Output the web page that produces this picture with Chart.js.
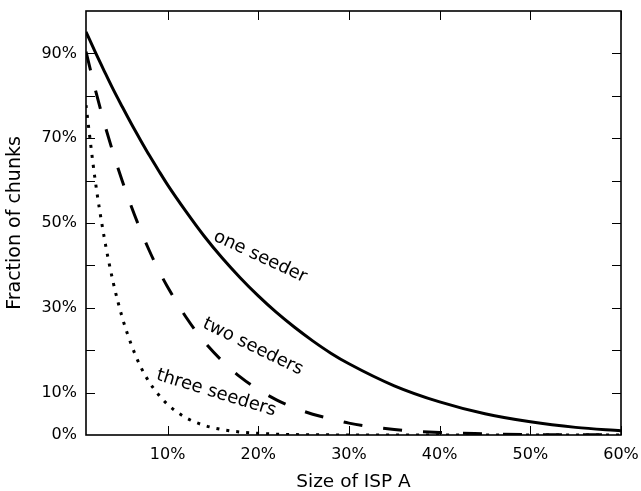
<!DOCTYPE html>
<html>
<head>
<meta charset="utf-8">
<script src="https://cdn.jsdelivr.net/npm/chart.js@4.4.1/dist/chart.umd.min.js"></script>
<style>
  html, body { margin: 0; padding: 0; background: #fff; }
  #wrap { width: 641px; height: 491px; }
</style>
</head>
<body>
<div id="wrap"><canvas id="c" width="641" height="491"></canvas></div>
<script>
// ---- data ----
const ispSize = [1,2,3,4,5,6,7,8,9,10,12,14,16,18,20,22,24,26,28,30,35,40,45,50,55,60];
const oneSeeder = [95.1,90.4,85.9,81.5,77.4,73.4,69.6,65.9,62.4,59.0,52.8,47.0,41.8,37.1,32.8,28.9,25.4,22.2,19.3,16.8,11.6,7.8,5.0,3.1,1.8,1.0];
const twoSeeders = [90.4,81.7,73.7,66.5,59.9,53.9,48.4,43.4,38.9,34.9,27.9,22.1,17.5,13.7,10.7,8.3,6.4,4.9,3.8,2.8,1.3,0.6,0.3,0.1,0.05,0.02];
const threeSeeders = [77.8,60.3,46.7,36.0,27.7,21.3,16.2,12.4,9.5,7.2,4.1,2.3,1.3,0.7,0.4,0.2,0.1,0.05,0.03,0.01,0,0,0,0,0,0];
const xTickValues = [10,20,30,40,50,60];
const yTickLabelValues = [0,10,30,50,70,90];
const yTickMarkValues = [10,20,30,40,50,60,70,80,90];
const seriesNames = ['one seeder','two seeders','three seeders'];

// curve-label annotations (data-space anchor + angle)
const curveLabels = [
  { text: seriesNames[0], x: 20.2, y: 42.0, angle: 25 },
  { text: seriesNames[1], x: 19.4, y: 20.8, angle: 26 },
  { text: seriesNames[2], x: 15.35, y: 9.9, angle: 17 }
];

const FONT = "'DejaVu Sans', 'Liberation Sans', sans-serif";

function toPts(ys) { return ispSize.map((x, i) => ({ x: x, y: ys[i] })); }

const decor = {
  id: 'decor',
  afterDatasetsDraw(chart) {
    const ctx = chart.ctx;
    const a = chart.chartArea;
    const xs = chart.scales.x, ys = chart.scales.y;
    ctx.save();
    // inward ticks on all four sides
    ctx.strokeStyle = '#000';
    ctx.lineWidth = 1;
    const TL = 9;
    ctx.beginPath();
    xTickValues.forEach(v => {
      const px = Math.round(xs.getPixelForValue(v)) + 0.5;
      ctx.moveTo(px, a.bottom); ctx.lineTo(px, a.bottom - TL);
      ctx.moveTo(px, a.top); ctx.lineTo(px, a.top + TL);
    });
    yTickMarkValues.forEach(v => {
      const py = Math.round(ys.getPixelForValue(v)) + 0.5;
      ctx.moveTo(a.left, py); ctx.lineTo(a.left + TL, py);
      ctx.moveTo(a.right, py); ctx.lineTo(a.right - TL, py);
    });
    ctx.stroke();
    // frame
    ctx.lineWidth = 1.6;
    ctx.strokeRect(a.left, a.top, a.right - a.left, a.bottom - a.top);
    // curve labels
    ctx.fillStyle = '#000';
    ctx.font = '18px ' + FONT;
    ctx.textAlign = 'center';
    ctx.textBaseline = 'middle';
    curveLabels.forEach(l => {
      ctx.save();
      ctx.translate(xs.getPixelForValue(l.x), ys.getPixelForValue(l.y));
      ctx.rotate(l.angle * Math.PI / 180);
      ctx.fillText(l.text, 0, 0);
      ctx.restore();
    });
    ctx.restore();
  }
};

new Chart(document.getElementById('c'), {
  type: 'line',
  data: {
    datasets: [
      { label: seriesNames[0], data: toPts(oneSeeder), borderColor: '#000', borderWidth: 3, pointRadius: 0, cubicInterpolationMode: 'monotone', fill: false },
      { label: seriesNames[1], data: toPts(twoSeeders), borderColor: '#000', borderWidth: 3, borderDash: [19, 21], borderCapStyle: 'butt', pointRadius: 0, cubicInterpolationMode: 'monotone', fill: false },
      { label: seriesNames[2], data: toPts(threeSeeders), borderColor: '#000', borderWidth: 3, borderDash: [3, 7], borderCapStyle: 'butt', pointRadius: 0, cubicInterpolationMode: 'monotone', fill: false }
    ]
  },
  options: {
    responsive: false,
    animation: false,
    devicePixelRatio: 1,
    layout: { padding: { top: 11, right: 20, left: 0, bottom: 0 } },
    plugins: { legend: { display: false }, tooltip: { enabled: false } },
    scales: {
      x: {
        type: 'linear', min: 1, max: 60,
        grid: { display: false, drawTicks: false },
        border: { display: false },
        afterBuildTicks: s => { s.ticks = xTickValues.map(v => ({ value: v })); },
        afterFit: s => { s.height = 56; s.paddingLeft = 0; s.paddingRight = 0; },
        ticks: { color: '#000', padding: 10, maxRotation: 0, font: { family: FONT, size: 16 }, callback: v => v + '%' },
        title: { display: true, text: 'Size of ISP A', color: '#000', font: { family: FONT, size: 18.5, lineHeight: 1 }, padding: { top: 0, bottom: 0 } }
      },
      y: {
        type: 'linear', min: 0, max: 100,
        grid: { display: false, drawTicks: false },
        border: { display: false },
        afterBuildTicks: s => { s.ticks = yTickLabelValues.map(v => ({ value: v })); },
        afterFit: s => { s.width = 86; s.paddingTop = 0; s.paddingBottom = 0; },
        ticks: { color: '#000', padding: 9, font: { family: FONT, size: 16 }, callback: v => v + '%' },
        title: { display: true, text: 'Fraction of chunks', color: '#000', font: { family: FONT, size: 19, lineHeight: 1 }, padding: { top: 6, bottom: 0 } }
      }
    }
  },
  plugins: [decor]
});
</script>
</body>
</html>
